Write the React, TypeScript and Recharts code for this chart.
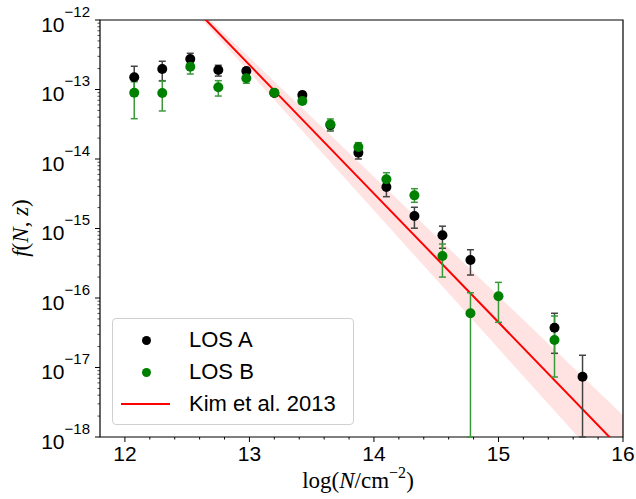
import React from 'react';
import {
  Area,
  ComposedChart,
  ErrorBar,
  Line,
  ReferenceArea,
  Scatter,
  XAxis,
  YAxis,
} from 'recharts';

// LOS A (black)
const BIN_A = [12.075, 12.3, 12.525, 12.75, 12.975, 13.2, 13.425, 13.65, 13.875, 14.1, 14.325, 14.55, 14.775, 15.45, 15.675];
const F_A = [1.5e-13, 1.97e-13, 2.75e-13, 1.91e-13, 1.85e-13, 8.9e-14, 8.3e-14, 3.08e-14, 1.23e-14, 3.95e-15, 1.51e-15, 7.98e-16, 3.52e-16, 3.74e-17, 7.38e-18];
const HI_A = [2.16e-13, 2.55e-13, 3.32e-13, 2.23e-13, 2.04e-13, 9.84e-14, 9.29e-14, 3.44e-14, 1.54e-14, 4.99e-15, 2.02e-15, 1.08e-15, 4.95e-16, 6.03e-17, 1.5e-17];
const LO_A = [8.15e-14, 1.34e-13, 2.33e-13, 1.56e-13, 1.62e-13, 8.05e-14, 7.29e-14, 2.53e-14, 1.0e-14, 2.87e-15, 1.01e-15, 5.19e-16, 2.14e-16, 1.6e-17, 1e-18];

// LOS B (green)
const BIN_B = [12.075, 12.3, 12.525, 12.75, 12.975, 13.2, 13.425, 13.65, 13.875, 14.1, 14.325, 14.55, 14.775, 15.0, 15.45];
const F_B = [9.0e-14, 8.9e-14, 2.13e-13, 1.08e-13, 1.45e-13, 9.0e-14, 6.84e-14, 3.16e-14, 1.49e-14, 5.1e-15, 3.0e-15, 4.02e-16, 6.03e-17, 1.06e-16, 2.49e-17];
const HI_B = [1.29e-13, 1.32e-13, 2.57e-13, 1.34e-13, 1.67e-13, 9.93e-14, 7.55e-14, 3.77e-14, 1.72e-14, 6.35e-15, 3.74e-15, 5.98e-16, 1.19e-16, 1.68e-16, 5.51e-17];
const LO_B = [3.8e-14, 4.91e-14, 1.67e-13, 8.05e-14, 1.23e-13, 8.15e-14, 6.18e-14, 2.61e-14, 1.3e-14, 4.47e-15, 2.38e-15, 2.0e-16, 1e-18, 4.47e-17, 7.3e-18];

// Kim et al. 2013 fit and its shaded band
const KIM_X = [12.2, 13, 14, 15, 16];
const KIM_F = [6.84e-12, 2.26e-13, 3.18e-15, 4.47e-17, 6.28e-19];
const BAND_LO = [6.84e-12, 1.77e-13, 1.82e-15, 1.87e-17, 1.92e-19];
const BAND_HI = [6.84e-12, 2.88e-13, 5.55e-15, 1.07e-16, 2.05e-18];

const X_MAJOR = [12, 13, 14, 15, 16];

const xTicks: number[] = [];
for (let i = 0; i <= 20; i++) xTicks.push(Math.round((12 + i * 0.2) * 10) / 10);

const yTicks: number[] = [];
for (let e = -18; e < -12; e++) {
  for (let k = 1; k <= 9; k++) yTicks.push(k * Math.pow(10, e));
}
yTicks.push(1e-12);

const toPoints = (bins: number[], f: number[], hi: number[], lo: number[]) =>
  bins.map((x, i) => ({ x, y: f[i], err: [f[i] - lo[i], hi[i] - f[i]] }));

const dataA = toPoints(BIN_A, F_A, HI_A, LO_A);
const dataB = toPoints(BIN_B, F_B, HI_B, LO_B);
const kimData = KIM_X.map((x, i) => ({ x, kim: KIM_F[i], band: [BAND_LO[i], BAND_HI[i]] }));

const SANS = '"Liberation Sans", Arial, sans-serif';
const SERIF = '"Liberation Serif", "DejaVu Serif", serif';

function XTick({ x, y, payload }: any) {
  const major = X_MAJOR.includes(payload.value);
  return (
    <g>
      <line x1={x} x2={x} y1={y} y2={y + (major ? 5 : 2.5)} stroke='#000' strokeWidth={1} />
      {major && (
        <text x={x} y={y + 24} textAnchor='middle' fontFamily={SANS} fontSize={21} fill='#000'>
          {payload.value}
        </text>
      )}
    </g>
  );
}

function YTick({ x, y, payload }: any) {
  const lg = Math.log10(payload.value);
  const major = Math.abs(lg - Math.round(lg)) < 1e-6;
  return (
    <g>
      <line x1={x} x2={x - (major ? 5 : 2.5)} y1={y} y2={y} stroke='#000' strokeWidth={major ? 1 : 0.7} />
      {major && (
        <text x={x - 10} y={y + 11.5} textAnchor='end' fontFamily={SANS} fontSize={21} fill='#000'>
          10
          <tspan dy={-15} fontSize={15}>
            {'\u2212' + Math.abs(Math.round(lg))}
          </tspan>
        </text>
      )}
    </g>
  );
}

const dot = (color: string) => (p: any) => <circle cx={p.cx} cy={p.cy} r={5} fill={color} />;

export default function App() {
  return (
    <div style={{ position: 'absolute', left: 0, top: 0, width: 636, height: 499, background: '#fff' }}>
      <ComposedChart
        width={636}
        height={499}
        data={kimData}
        margin={{ top: 20, right: 13, left: 0, bottom: 0 }}
      >
        <XAxis
          dataKey='x'
          type='number'
          domain={[11.8, 16]}
          allowDataOverflow
          ticks={xTicks}
          interval={0}
          height={62}
          axisLine={false}
          tickLine={false}
          tickSize={0}
          tickMargin={0}
          tick={<XTick />}
        />
        <YAxis
          scale='log'
          type='number'
          domain={[1e-18, 1e-12]}
          allowDataOverflow
          ticks={yTicks}
          interval={0}
          width={100}
          axisLine={false}
          tickLine={false}
          tickSize={0}
          tickMargin={0}
          tick={<YTick />}
        />
        <Area
          dataKey='band'
          type='linear'
          stroke='none'
          fill='#ff0000'
          fillOpacity={0.11}
          isAnimationActive={false}
        />
        <Line
          dataKey='kim'
          type='linear'
          stroke='#ff0000'
          strokeWidth={2}
          dot={false}
          isAnimationActive={false}
        />
        <Scatter data={dataA} dataKey='y' shape={dot('#000000')} isAnimationActive={false}>
          <ErrorBar dataKey='err' direction='y' width={3.5} stroke='#444444' strokeWidth={1.5} />
        </Scatter>
        <Scatter data={dataB} dataKey='y' shape={dot('#008000')} isAnimationActive={false}>
          <ErrorBar dataKey='err' direction='y' width={3.5} stroke='#3a9a3a' strokeWidth={1.5} />
        </Scatter>
        <ReferenceArea
          x1={11.8}
          x2={16}
          y1={1e-18}
          y2={1e-12}
          fill='none'
          stroke='#000'
          strokeWidth={1.2}
          fillOpacity={0}
        />
      </ComposedChart>

      <svg
        width={636}
        height={499}
        style={{ position: 'absolute', left: 0, top: 0, pointerEvents: 'none' }}
      >
        <text
          transform='translate(28,228) rotate(-90)'
          textAnchor='middle'
          fontFamily={SERIF}
          fontSize={23}
          fill='#000'
        >
          <tspan fontStyle='italic'>f</tspan>(<tspan fontStyle='italic'>N</tspan>,{' '}
          <tspan fontStyle='italic'>z</tspan>)
        </text>
        <text x={358} y={488} textAnchor='middle' fontFamily={SERIF} fontSize={23} fill='#000'>
          log(<tspan fontStyle='italic'>N</tspan>/cm
          <tspan dy={-10} fontSize={16}>
            {'\u22122'}
          </tspan>
          <tspan dy={10}>)</tspan>
        </text>
      </svg>

      <div
        style={{
          position: 'absolute',
          left: 112,
          top: 318,
          width: 242,
          height: 107,
          border: '1px solid #d0d0d0',
          borderRadius: 4,
          background: 'rgba(255,255,255,0.85)',
          boxSizing: 'border-box',
          fontFamily: SANS,
          fontSize: 22,
          color: '#000',
        }}
      >
        {[
          { label: 'LOS A', kind: 'dot', color: '#000000' },
          { label: 'LOS B', kind: 'dot', color: '#008000' },
          { label: 'Kim et al. 2013', kind: 'line', color: '#ff0000' },
        ].map((it, i) => (
          <div
            key={it.label}
            style={{ position: 'absolute', left: 0, top: 5 + i * 32, height: 32, width: '100%' }}
          >
            {it.kind === 'dot' ? (
              <div
                style={{
                  position: 'absolute',
                  left: 29,
                  top: 12,
                  width: 9,
                  height: 9,
                  borderRadius: '50%',
                  background: it.color,
                }}
              />
            ) : (
              <div
                style={{ position: 'absolute', left: 8, top: 15, width: 49, height: 2, background: it.color }}
              />
            )}
            <div style={{ position: 'absolute', left: 76, top: 3, lineHeight: '26px', whiteSpace: 'nowrap' }}>
              {it.label}
            </div>
          </div>
        ))}
      </div>
    </div>
  );
}
